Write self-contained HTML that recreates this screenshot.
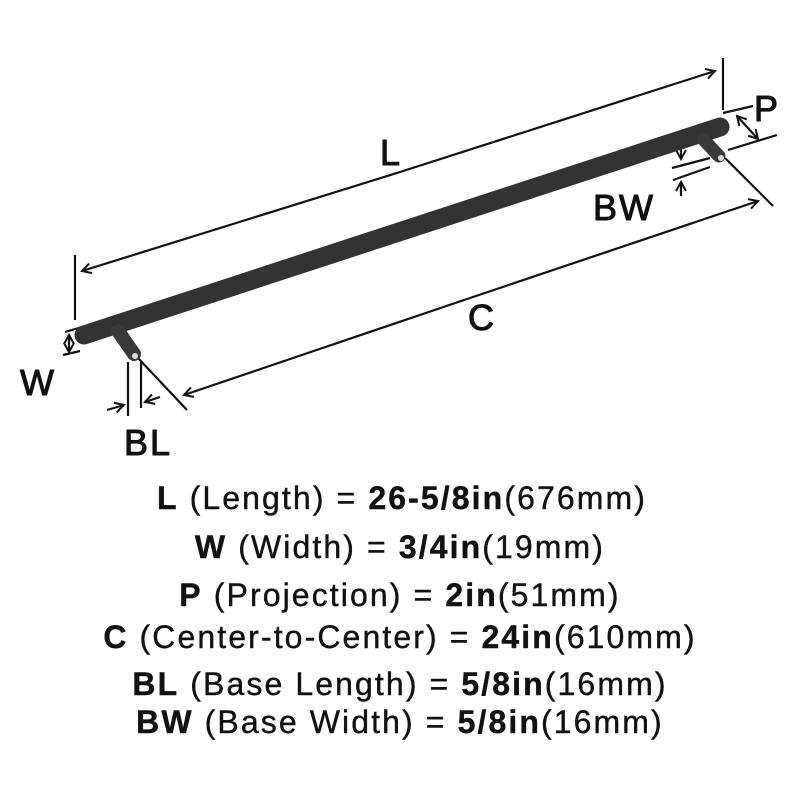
<!DOCTYPE html>
<html><head><style>
html,body{margin:0;padding:0;background:#fff;}
svg{display:block;}
text{font-family:"Liberation Sans",Arial,sans-serif;fill:#111;}
</style></head><body>
<svg width="800" height="800" viewBox="0 0 800 800" xmlns="http://www.w3.org/2000/svg">
<defs>
<marker id="a" markerWidth="12" markerHeight="12" refX="10" refY="6" orient="auto" markerUnits="userSpaceOnUse">
<path d="M1,1 L10,6 L1,11" fill="none" stroke="#111" stroke-width="2"/>
</marker>
</defs>
<g stroke="#111" stroke-width="2.2" fill="none">
<line x1="75" y1="255" x2="75" y2="320"/>
<line x1="723" y1="58" x2="723" y2="110"/>
<line x1="400" y1="172" x2="82" y2="271" marker-end="url(#a)"/>
<line x1="400" y1="172" x2="715" y2="71" marker-end="url(#a)"/>
<line x1="138" y1="358" x2="187" y2="410"/>
<line x1="725" y1="158" x2="773" y2="206"/>
<line x1="470" y1="298" x2="184" y2="395" marker-end="url(#a)"/>
<line x1="470" y1="298" x2="758" y2="201" marker-end="url(#a)"/>
<line x1="723" y1="113" x2="753" y2="106"/>
<line x1="728" y1="150" x2="777" y2="135"/>
<line x1="747" y1="127" x2="737" y2="116" marker-end="url(#a)"/>
<line x1="747" y1="127" x2="758" y2="139" marker-end="url(#a)"/>
<line x1="672" y1="168" x2="710" y2="158"/>
<line x1="673" y1="180" x2="710" y2="167"/>
<line x1="681" y1="143" x2="681" y2="159" marker-end="url(#a)"/>
<line x1="681" y1="196" x2="681" y2="182" marker-end="url(#a)"/>
<line x1="65" y1="332" x2="82" y2="327"/>
<line x1="63" y1="355" x2="80" y2="351"/>
<line x1="69" y1="343" x2="69" y2="335" marker-end="url(#a)"/>
<line x1="69" y1="343" x2="69" y2="352" marker-end="url(#a)"/>
<line x1="128" y1="362" x2="128" y2="416"/>
<line x1="141" y1="362" x2="141" y2="408"/>
<line x1="107" y1="410" x2="124" y2="405" marker-end="url(#a)"/>
<line x1="160" y1="397" x2="145" y2="402" marker-end="url(#a)"/>
</g>
<line x1="84" y1="335" x2="720" y2="127" stroke="#333" stroke-width="19" stroke-linecap="round"/>
<line x1="118" y1="331" x2="134" y2="354" stroke="#3a3a3a" stroke-width="14" stroke-linecap="round"/>
<line x1="703" y1="139" x2="719" y2="156" stroke="#3a3a3a" stroke-width="13" stroke-linecap="round"/>
<circle cx="135" cy="356" r="3" fill="#ddd"/>
<circle cx="721" cy="158" r="3" fill="#ddd"/>
<g font-size="36" stroke="#111" stroke-width="1" letter-spacing="2">
<text x="380" y="165">L</text>
<text x="468" y="330">C</text>
<text x="754" y="121">P</text>
<text x="593" y="220">BW</text>
<text x="20" y="395">W</text>
<text x="124" y="455">BL</text>
</g>
<g font-size="32" text-anchor="middle" letter-spacing="2.1" stroke="#111" stroke-width="0.4">
<text x="402" y="509"><tspan font-weight="bold">L</tspan> (Length) = <tspan font-weight="bold">26-5/8in</tspan>(676mm)</text>
<text x="400" y="558"><tspan font-weight="bold">W</tspan> (Width) = <tspan font-weight="bold">3/4in</tspan>(19mm)</text>
<text x="400" y="606"><tspan font-weight="bold">P</tspan> (Projection) = <tspan font-weight="bold">2in</tspan>(51mm)</text>
<text x="400" y="648"><tspan font-weight="bold">C</tspan> (Center-to-Center) = <tspan font-weight="bold">24in</tspan>(610mm)</text>
<text x="400" y="695"><tspan font-weight="bold">BL</tspan> (Base Length) = <tspan font-weight="bold">5/8in</tspan>(16mm)</text>
<text x="400" y="733"><tspan font-weight="bold">BW</tspan> (Base Width) = <tspan font-weight="bold">5/8in</tspan>(16mm)</text>
</g>
</svg>
</body></html>
